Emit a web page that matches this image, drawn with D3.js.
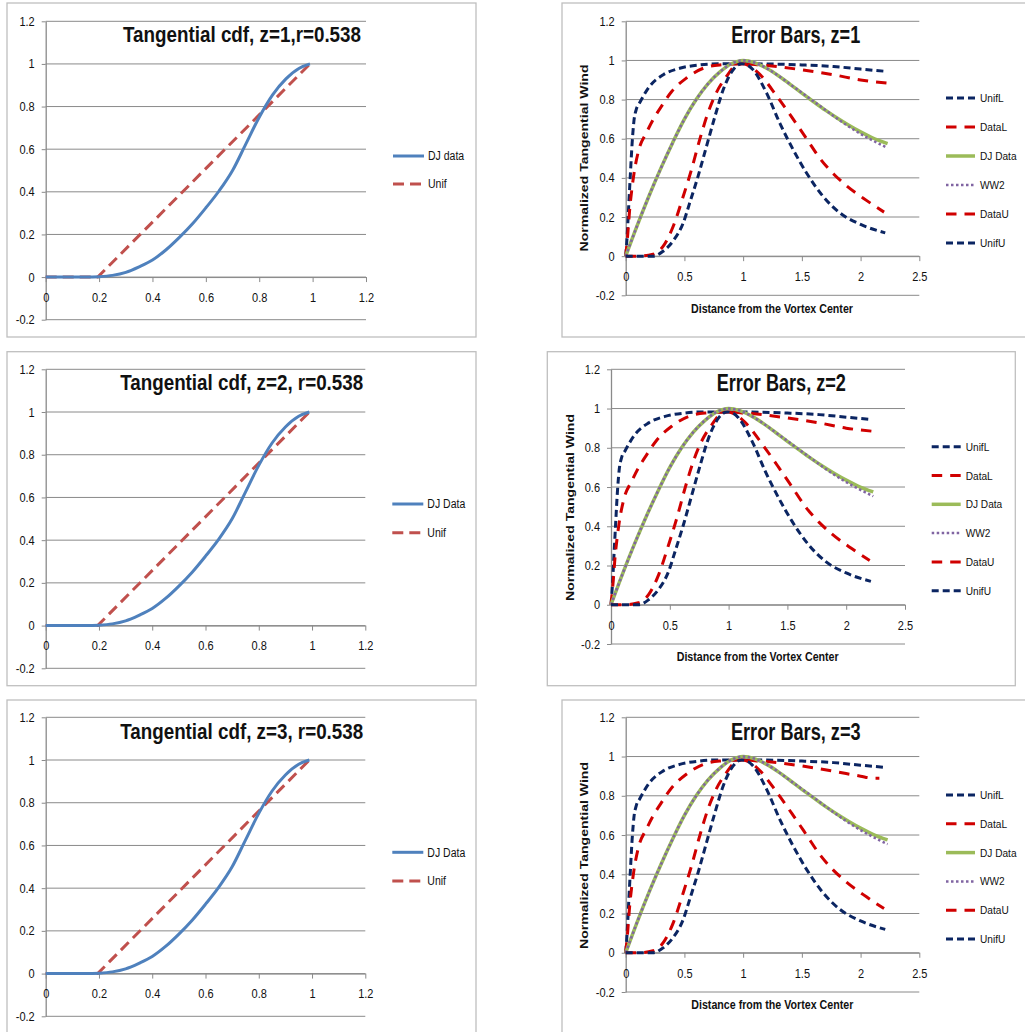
<!DOCTYPE html>
<html>
<head>
<meta charset="utf-8">
<script src="https://cdn.jsdelivr.net/npm/d3@7"></script>
<style>
  html, body { margin: 0; padding: 0; background: #fff; }
  svg { display: block; }
  text { font-family: "Liberation Sans", Arial, sans-serif; fill: #111; }
</style>
</head>
<body>
<svg id="chart" width="1025" height="1032"></svg>
<script>
// ---------------- DATA ----------------
// CDF panels
const cdfXTicks = [0, 0.2, 0.4, 0.6, 0.8, 1, 1.2];
const cdfXTickLabels = ["0", "0.2", "0.4", "0.6", "0.8", "1", "1.2"];
const yTicks = [-0.2, 0, 0.2, 0.4, 0.6, 0.8, 1, 1.2];
const yTickLabels = ["-0.2", "0", "0.2", "0.4", "0.6", "0.8", "1", "1.2"];

const djCdfX = [0, 0.05, 0.1, 0.15, 0.2, 0.25, 0.3, 0.35, 0.4, 0.45, 0.5, 0.55, 0.6, 0.65, 0.7, 0.75, 0.8, 0.85, 0.9, 0.95, 0.99];
const djCdfY = [0, 0, 0, 0, 0.002, 0.008, 0.022, 0.048, 0.08, 0.127, 0.185, 0.25, 0.325, 0.405, 0.5, 0.625, 0.75, 0.855, 0.93, 0.98, 1.0];
const unifCdfX = [0, 0.195, 0.99];
const unifCdfY = [0, 0, 1.0];

const cdfTitles = ["Tangential cdf, z=1,r=0.538", "Tangential cdf, z=2, r=0.538", "Tangential cdf, z=3, r=0.538"];
const cdfLegendNames = [["DJ data", "Unif"], ["DJ Data", "Unif"], ["DJ Data", "Unif"]];

// Error-bar panels
const errXTicks = [0, 0.5, 1, 1.5, 2, 2.5];
const errXTickLabels = ["0", "0.5", "1", "1.5", "2", "2.5"];
const errTitles = ["Error Bars, z=1", "Error Bars, z=2", "Error Bars, z=3"];
const errSeriesNames = ["UnifL", "DataL", "DJ Data", "WW2", "DataU", "UnifU"];

const unifLX = [0, 0.012, 0.025, 0.04, 0.055, 0.07, 0.09, 0.12, 0.2, 0.32, 0.46, 0.63, 0.8, 1.0, 1.2, 1.5, 1.77, 2.0, 2.22];
const unifLY = [0, 0.1, 0.25, 0.42, 0.58, 0.69, 0.75, 0.785, 0.865, 0.927, 0.96, 0.977, 0.983, 0.983, 0.982, 0.977, 0.969, 0.956, 0.944];

const dataLX = [0, 0.01, 0.02, 0.034, 0.05, 0.07, 0.11, 0.176, 0.233, 0.304, 0.39, 0.517, 0.66, 0.8, 1.0, 1.14, 1.3, 1.5, 1.77, 2.0, 2.23];
const dataLY = [0, 0.06, 0.13, 0.24, 0.33, 0.42, 0.54, 0.63, 0.697, 0.765, 0.84, 0.91, 0.96, 0.977, 0.983, 0.977, 0.968, 0.952, 0.927, 0.9, 0.884];
const dataLX3 = [0, 0.01, 0.02, 0.034, 0.05, 0.07, 0.11, 0.176, 0.233, 0.304, 0.39, 0.517, 0.66, 0.8, 1.0, 1.14, 1.3, 1.5, 1.77, 2.0, 2.1, 2.16];
const dataLY3 = [0, 0.06, 0.13, 0.24, 0.33, 0.42, 0.54, 0.63, 0.697, 0.765, 0.84, 0.91, 0.96, 0.977, 0.983, 0.977, 0.968, 0.952, 0.925, 0.9, 0.89, 0.89];

const djX = [0, 0.1, 0.2, 0.3, 0.4, 0.5, 0.6, 0.7, 0.8, 0.9, 1.0, 1.1, 1.2, 1.3, 1.4, 1.5, 1.6, 1.7, 1.8, 1.9, 2.0, 2.1, 2.23];
const djY = [0, 0.16, 0.31, 0.45, 0.58, 0.7, 0.8, 0.88, 0.94, 0.983, 1.0, 0.988, 0.96, 0.922, 0.878, 0.833, 0.789, 0.746, 0.706, 0.669, 0.635, 0.605, 0.575];
const ww2Y = [0, 0.16, 0.31, 0.45, 0.58, 0.7, 0.8, 0.88, 0.94, 0.983, 1.0, 0.988, 0.96, 0.922, 0.878, 0.835, 0.791, 0.747, 0.703, 0.662, 0.625, 0.592, 0.553];

const dataUX = [0, 0.1, 0.233, 0.318, 0.403, 0.49, 0.56, 0.63, 0.7, 0.77, 0.858, 0.943, 1.0, 1.07, 1.14, 1.284, 1.426, 1.54, 1.653, 1.77, 1.88, 2.05, 2.2];
const dataUY = [0, 0, 0.01, 0.05, 0.15, 0.306, 0.442, 0.595, 0.731, 0.833, 0.918, 0.977, 0.983, 0.965, 0.93, 0.82, 0.7, 0.6, 0.5, 0.42, 0.36, 0.285, 0.225];

const unifUX = [0, 0.1, 0.233, 0.318, 0.403, 0.49, 0.545, 0.616, 0.688, 0.76, 0.83, 0.915, 0.986, 1.04, 1.085, 1.2, 1.312, 1.426, 1.54, 1.68, 1.824, 2.0, 2.21];
const unifUY = [0, 0, 0, 0.025, 0.077, 0.17, 0.272, 0.408, 0.561, 0.714, 0.85, 0.952, 0.983, 0.975, 0.952, 0.833, 0.68, 0.544, 0.425, 0.306, 0.221, 0.162, 0.119];

const yAxisTitle = "Normalized Tangential Wind";
const xAxisTitle = "Distance from the Vortex Center";

// ---------------- LAYOUT ----------------
const cdfLayout = [
  { frame: [7, 3, 469, 334], xr: [45.7, 366], yr: [319.7, 21.3], tx: 242, ty: 41.7, tw: 238, legY: [156, 184] },
  { frame: [7, 351.7, 469, 334], xr: [45.7, 365.3], yr: [668.3, 369.3], tx: 241.7, ty: 390, tw: 243, legY: [504, 532.7] },
  { frame: [7, 700, 469, 400], xr: [45.7, 365.3], yr: [1016.3, 717.3], tx: 241.7, ty: 739.3, tw: 243, legY: [852.3, 881] }
];
const errLayout = [
  { frame: [562, 3, 500, 334], xr: [625.7, 919.3], yr: [295.3, 21.3], tx: 795.7, ty: 42.7, tw: 129, ylab: [584, 158], xlab: [772, 309], legX: 946, legY0: 98, legDy: 29 },
  { frame: [547.3, 351.7, 468, 334], xr: [611, 905], yr: [644, 369.3], tx: 781.3, ty: 390.7, tw: 129.3, ylab: [570, 507.5], xlab: [757.7, 656.7], legX: 931.7, legY0: 446.7, legDy: 28.8 },
  { frame: [562, 700, 500, 400], xr: [625.7, 919.3], yr: [992, 717.3], tx: 795.8, ty: 740, tw: 129.7, ylab: [584.3, 855.5], xlab: [772.3, 1005], legX: 946, legY0: 795, legDy: 28.8 }
];

const GRID = "#8a8a8a";
const FRAME = "#bfbfbf";
const NAVY = "#0b2562";
const RED = "#d00000";
const GREEN = "#9bbb59";
const PURPLE = "#8064a2";

const svg = d3.select("#chart");
const zip = (xs, ys) => xs.map((x, i) => [x, ys[i]]);

// condense text horizontally (to mimic a narrow font)
function condense(sel, f) {
  sel.each(function () {
    const w = this.getComputedTextLength();
    d3.select(this).attr("textLength", w * f).attr("lengthAdjust", "spacingAndGlyphs");
  });
}

function drawAxes(g, x, y, xTicks, xLabels, xMax) {
  g.append("g").selectAll("line").data(yTicks).join("line")
    .attr("x1", x(0)).attr("x2", x(xMax))
    .attr("y1", d => y(d)).attr("y2", d => y(d))
    .attr("stroke", GRID).attr("stroke-width", 1);
  const ya = g.append("g").attr("transform", `translate(${x(0)},0)`)
    .call(d3.axisLeft(y).tickValues(yTicks).tickSize(4).tickSizeOuter(0).tickPadding(7)
      .tickFormat((d, i) => yTickLabels[i]));
  ya.select(".domain").attr("stroke", GRID).attr("stroke-width", 1.3);
  ya.selectAll(".tick line").attr("stroke", GRID);
  ya.selectAll("text").style("font-size", "12.5px").attr("fill", "#111").call(condense, 0.88);
  const xa = g.append("g").attr("transform", `translate(0,${y(0)})`)
    .call(d3.axisBottom(x).tickValues(xTicks).tickSize(5).tickSizeOuter(0).tickPadding(11)
      .tickFormat((d, i) => xLabels[i]));
  xa.select(".domain").attr("stroke", GRID).attr("stroke-width", 1);
  xa.selectAll(".tick line").attr("stroke", GRID);
  xa.selectAll("text").style("font-size", "12.5px").attr("fill", "#111").call(condense, 0.88);
}

function frame(L) {
  svg.append("rect").attr("x", L.frame[0]).attr("y", L.frame[1])
    .attr("width", L.frame[2]).attr("height", L.frame[3])
    .attr("fill", "#fff").attr("stroke", FRAME).attr("stroke-width", 1.3);
}

function title(g, L, txt, size) {
  g.append("text").attr("x", L.tx).attr("y", L.ty).attr("text-anchor", "middle")
    .attr("textLength", L.tw).attr("lengthAdjust", "spacingAndGlyphs")
    .style("font-weight", "bold").style("font-size", size + "px").attr("fill", "#000").text(txt);
}

// ---------------- CDF PANELS ----------------
cdfLayout.forEach((L, p) => {
  frame(L);
  const g = svg.append("g");
  const x = d3.scaleLinear().domain([0, 1.2]).range(L.xr);
  const y = d3.scaleLinear().domain([-0.2, 1.2]).range(L.yr);
  drawAxes(g, x, y, cdfXTicks, cdfXTickLabels, 1.2);
  const smooth = d3.line().x(d => x(d[0])).y(d => y(d[1])).curve(d3.curveMonotoneX);
  const straight = d3.line().x(d => x(d[0])).y(d => y(d[1]));
  const series = [
    { pts: zip(djCdfX, djCdfY), color: "#4f81bd", w: 3, dash: null, name: cdfLegendNames[p][0], gen: smooth },
    { pts: zip(unifCdfX, unifCdfY), color: "#c0504d", w: 3, dash: "11,6", name: cdfLegendNames[p][1], gen: straight }
  ];
  series.slice().reverse().forEach(s => {
    g.append("path").attr("d", s.gen(s.pts)).attr("fill", "none")
      .attr("stroke", s.color).attr("stroke-width", s.w)
      .attr("stroke-dasharray", s.dash);
  });
  title(g, L, cdfTitles[p], 22);
  series.forEach((s, i) => {
    const ly = L.legY[i];
    const lx = x(1.2) + 27;
    g.append("line").attr("x1", lx).attr("x2", lx + 31).attr("y1", ly).attr("y2", ly)
      .attr("stroke", s.color).attr("stroke-width", s.w).attr("stroke-dasharray", s.dash);
    g.append("text").attr("x", lx + 35).attr("y", ly).attr("dy", "0.35em")
      .style("font-size", "12.5px").text(s.name).call(condense, 0.84);
  });
});

// ---------------- ERROR-BAR PANELS ----------------
errLayout.forEach((L, p) => {
  frame(L);
  const g = svg.append("g");
  const x = d3.scaleLinear().domain([0, 2.5]).range(L.xr);
  const y = d3.scaleLinear().domain([-0.2, 1.2]).range(L.yr);
  drawAxes(g, x, y, errXTicks, errXTickLabels, 2.5);
  const line = d3.line().x(d => x(d[0])).y(d => y(d[1])).curve(d3.curveMonotoneX);
  const dl = p === 2 ? zip(dataLX3, dataLY3) : zip(dataLX, dataLY);
  const series = [
    { pts: zip(unifLX, unifLY), color: NAVY, w: 3, dash: "7,4" },
    { pts: dl, color: RED, w: 3, dash: "10.5,8" },
    { pts: zip(djX, djY), color: GREEN, w: 3.5, dash: null },
    { pts: zip(djX, ww2Y), color: PURPLE, w: 2.5, dash: "2.5,2.5" },
    { pts: zip(dataUX, dataUY), color: RED, w: 3, dash: "10.5,8" },
    { pts: zip(unifUX, unifUY), color: NAVY, w: 3, dash: "7,4" }
  ];
  series.forEach(s => {
    g.append("path").attr("d", line(s.pts)).attr("fill", "none")
      .attr("stroke", s.color).attr("stroke-width", s.w)
      .attr("stroke-dasharray", s.dash);
  });
  title(g, L, errTitles[p], 23);
  g.append("text").attr("transform", `translate(${L.ylab[0]},${L.ylab[1]}) rotate(-90)`)
    .attr("text-anchor", "middle").attr("dy", "0.35em")
    .attr("textLength", 187).attr("lengthAdjust", "spacingAndGlyphs")
    .style("font-weight", "bold").style("font-size", "11.5px").text(yAxisTitle);
  g.append("text").attr("x", L.xlab[0]).attr("y", L.xlab[1]).attr("dy", "0.35em")
    .attr("text-anchor", "middle")
    .attr("textLength", 162).attr("lengthAdjust", "spacingAndGlyphs")
    .style("font-weight", "bold").style("font-size", "12.5px").text(xAxisTitle);
  series.forEach((s, i) => {
    const ly = L.legY0 + i * L.legDy;
    g.append("line").attr("x1", L.legX).attr("x2", L.legX + 29).attr("y1", ly).attr("y2", ly)
      .attr("stroke", s.color).attr("stroke-width", s.w).attr("stroke-dasharray", s.dash);
    g.append("text").attr("x", L.legX + 34).attr("y", ly).attr("dy", "0.35em")
      .style("font-size", "11.5px").text(errSeriesNames[i]).call(condense, 0.88);
  });
});
</script>
</body>
</html>
